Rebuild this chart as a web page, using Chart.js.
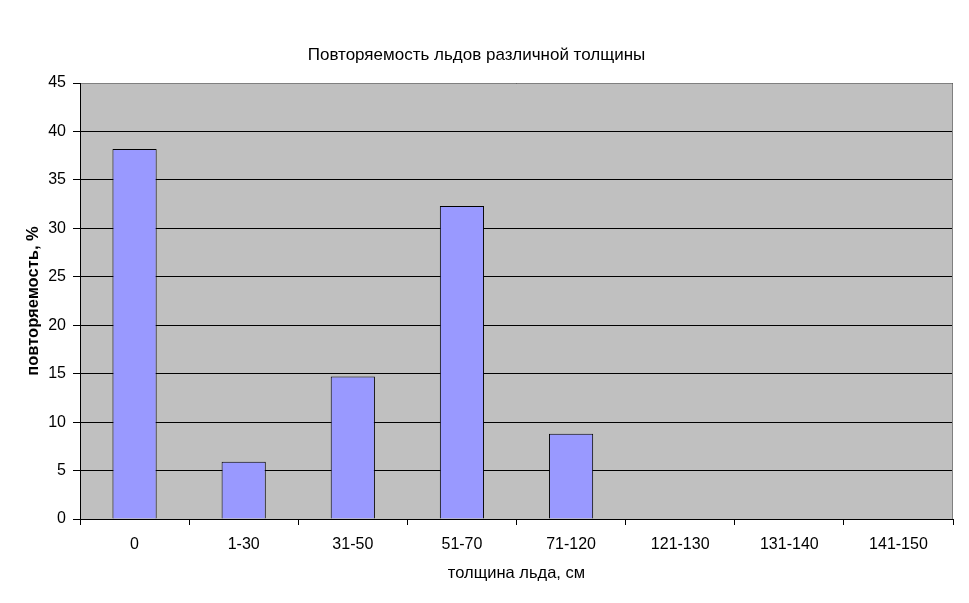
<!DOCTYPE html>
<html lang="ru">
<head>
  <meta charset="UTF-8" />
  <title>Повторяемость льдов</title>
  <script src="https://cdn.jsdelivr.net/npm/chart.js"></script>
  <style>
    html, body { margin: 0; padding: 0; background: #fff; }
    #wrap { width: 969px; height: 603px; }
  </style>
</head>
<body>
  <div id="wrap"><canvas id="iceChart" width="969" height="603"></canvas></div>

  <script>
    const categories = ['0', '1-30', '31-50', '51-70', '71-120', '121-130', '131-140', '141-150'];
    const frequency = [38.2, 5.9, 14.7, 32.3, 8.8, 0, 0, 0];
    const yTicks = [0, 5, 10, 15, 20, 25, 30, 35, 40, 45];

    const FONT = 'Liberation Sans, Arial, sans-serif';

    // grey plot background + grey top/right border, like the original
    const plotBg = {
      id: 'plotBg',
      beforeDraw(chart) {
        const { ctx, chartArea: a } = chart;
        ctx.save();
        ctx.fillStyle = '#c0c0c0';
        ctx.fillRect(a.left, a.top, a.right - a.left, a.bottom - a.top);
        ctx.restore();
      },
      afterDatasetsDraw(chart) {
        const { ctx, chartArea: a } = chart;
        ctx.save();
        ctx.strokeStyle = '#808080';
        ctx.lineWidth = 1;
        ctx.beginPath();
        ctx.moveTo(a.left + 1, a.top + 0.5);
        ctx.lineTo(a.right - 0.5, a.top + 0.5);
        ctx.lineTo(a.right - 0.5, a.bottom);
        ctx.stroke();
        ctx.restore();
      }
    };

    new Chart(document.getElementById('iceChart'), {
      type: 'bar',
      data: {
        labels: categories,
        datasets: [{
          data: frequency,
          backgroundColor: '#9999ff',
          borderColor: '#000',
          borderWidth: 1,
          categoryPercentage: 1,
          barPercentage: 0.405
        }]
      },
      options: {
        responsive: false,
        animation: false,
        layout: { padding: { left: 0, right: 16, top: 0, bottom: 0 } },
        plugins: {
          legend: { display: false },
          tooltip: { enabled: false },
          title: {
            display: true,
            text: 'Повторяемость льдов различной толщины',
            color: '#000',
            font: { family: FONT, size: 17, weight: 'normal' },
            padding: { top: 45, bottom: 17.6 }
          }
        },
        scales: {
          x: {
            afterFit(s) { s.height = 84; },
            grid: { drawOnChartArea: false, drawTicks: true, tickLength: 6, color: '#000', offset: true },
            border: { color: '#000' },
            ticks: { color: '#000', font: { family: FONT, size: 16 }, padding: 10 },
            title: {
              display: true,
              text: 'толщина льда, см',
              color: '#000',
              font: { family: FONT, size: 16.5 },
              padding: { top: 0, bottom: 20 }
            }
          },
          y: {
            min: 0,
            max: 45,
            afterFit(s) { s.width = 80; },
            afterBuildTicks(s) { s.ticks = yTicks.map(v => ({ value: v })); },
            grid: { color: '#000', tickLength: 7 },
            border: { color: '#000' },
            ticks: { color: '#000', font: { family: FONT, size: 16 }, padding: 7 },
            title: {
              display: true,
              text: 'повторяемость, %',
              color: '#000',
              font: { family: FONT, size: 16.5, weight: 'bold' },
              padding: { top: 24, bottom: 0 }
            }
          }
        }
      },
      plugins: [plotBg]
    });
  </script>
</body>
</html>
